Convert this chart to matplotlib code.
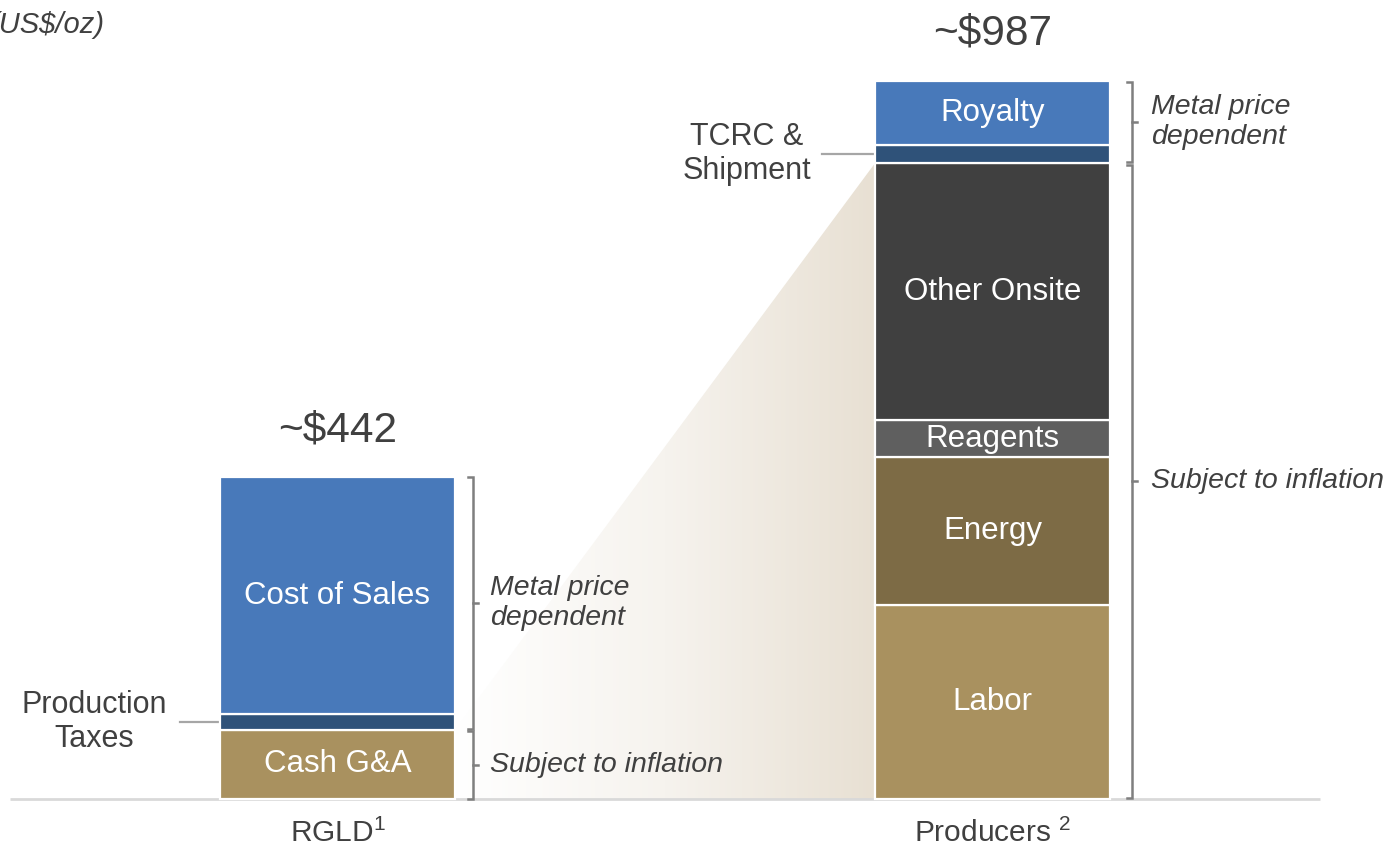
import numpy as np
import matplotlib
matplotlib.use("Agg")
import matplotlib.pyplot as plt
from matplotlib.patches import Polygon
from matplotlib.colors import LinearSegmentedColormap

plt.rcParams['font.family'] = ['Liberation Sans', 'DejaVu Sans']
plt.rcParams['mathtext.fontset'] = 'custom'
plt.rcParams['mathtext.rm'] = 'Liberation Sans'
plt.rcParams['mathtext.it'] = 'Liberation Sans:italic'

# ---------------- data ----------------
categories = ["RGLD", "Producers"]
cat_sup = ["1", "2"]
totals_text = ["~$442", "~$987"]

rgld_labels = ["Cash G&A", "Production Taxes", "Cost of Sales"]
rgld_values = [95, 22, 325]

prod_labels = ["Labor", "Energy", "Reagents", "Other Onsite", "TCRC & Shipment", "Royalty"]
prod_values = [266, 204, 51, 353, 25, 88]

# ---------------- styling ----------------
seg_colors = {
    "Cash G&A": "#A9915F", "Production Taxes": "#2F5279", "Cost of Sales": "#4879BA",
    "Labor": "#A9915F", "Energy": "#7D6B45", "Reagents": "#5F5F5F",
    "Other Onsite": "#404040", "TCRC & Shipment": "#2F5279", "Royalty": "#4879BA",
}
TXT = "#404040"
BR = "#7F7F7F"

W, H = 1395, 848
fig = plt.figure(figsize=(W / 100, H / 100), dpi=100)
ax = fig.add_axes([0, 0, 1, 1])
ax.axis("off")

S = 0.7275          # px per $
BASE = 799          # baseline pixel row
C0, UNIT = 337.5, 655.0

def px2x(p):
    return (p - C0) / UNIT

def py2y(p):
    return (BASE - p) / S

bar_w = 235 / UNIT
xs = [0, 1]

def stack(xc, labels, values):
    bottoms = np.concatenate([[0], np.cumsum(values)[:-1]])
    for lab, v, b in zip(labels, values, bottoms):
        ax.bar(xc, v, bottom=b, width=bar_w, color=seg_colors[lab],
               edgecolor="white", linewidth=1.6, zorder=3)
    return bottoms

rb = stack(xs[0], rgld_labels, rgld_values)
pb = stack(xs[1], prod_labels, prod_values)

# gradient wedge
g_left = xs[0] + bar_w / 2
g_right = xs[1] - bar_w / 2
y_left = rgld_values[0]
y_right = sum(prod_values[:4])
poly = Polygon([(g_left, 0), (g_left, y_left), (g_right, y_right), (g_right, 0)],
               closed=True, facecolor="none", edgecolor="none")
ax.add_patch(poly)
cmap = LinearSegmentedColormap.from_list("g", ["#FFFFFF", "#F6F3EE", "#E8E0D3"])
grad = np.linspace(0, 1, 256).reshape(1, -1)
im = ax.imshow(grad, cmap=cmap, extent=[g_left, g_right, 0, y_right],
               aspect="auto", zorder=1, interpolation="bilinear")
im.set_clip_path(poly)

# baseline
ax.plot([px2x(10), px2x(1320)], [0, 0], color="#D9D9D9", lw=2, zorder=2,
        solid_capstyle="butt")

# labels inside bars
inside_r = {"Cost of Sales", "Cash G&A"}
inside_p = {"Royalty", "Other Onsite", "Reagents", "Energy", "Labor"}
for lab, v, b in zip(rgld_labels, rgld_values, rb):
    if lab in inside_r:
        ax.text(xs[0], b + v / 2, lab, color="white", fontsize=22.5,
                ha="center", va="center", zorder=5)
for lab, v, b in zip(prod_labels, prod_values, pb):
    if lab in inside_p:
        ax.text(xs[1], b + v / 2, lab, color="white", fontsize=22.5,
                ha="center", va="center", zorder=5)

# totals
ax.text(xs[0], sum(rgld_values) + py2y(431) - py2y(478), totals_text[0],
        fontsize=30.5, color=TXT, ha="center", va="center")
ax.text(xs[1], sum(prod_values) + py2y(33) - py2y(80), totals_text[1],
        fontsize=30.5, color=TXT, ha="center", va="center")

# category labels
for xc, cat, sup in zip(xs, categories, cat_sup):
    sp = " " if cat == "Producers" else ""
    ax.text(xc, py2y(833), cat + sp + r"$^{" + sup + "}$", fontsize=21.5,
            color=TXT, ha="center", va="center")

# leader lines & outside labels
tax_mid = rb[1] + rgld_values[1] / 2
ax.plot([px2x(180), xs[0] - bar_w / 2], [tax_mid, tax_mid], color="#A6A6A6", lw=1.6)
ax.text(px2x(94), tax_mid, "Production\nTaxes", fontsize=22, color=TXT,
        ha="center", va="center", multialignment="center", linespacing=1.2)
tc_mid = pb[4] + prod_values[4] / 2
ax.plot([px2x(822), xs[1] - bar_w / 2], [tc_mid, tc_mid], color="#A6A6A6", lw=1.6)
ax.text(px2x(747), tc_mid, "TCRC &\nShipment", fontsize=22, color=TXT,
        ha="center", va="center", multialignment="center", linespacing=1.2)

# brackets
def bracket(xp, y0, y1, text, tx):
    x = px2x(xp)
    d = 5 / UNIT
    ax.plot([x - d, x, x, x - d], [y0, y0, y1, y1], color=BR, lw=1.8,
            solid_joinstyle="miter", zorder=4)
    ym = (y0 + y1) / 2
    ax.plot([x, x + d], [ym, ym], color=BR, lw=1.8, zorder=4)
    ax.text(px2x(tx), ym, text, fontsize=20.5, style="italic", color=TXT,
            ha="left", va="center", linespacing=1.2, zorder=5)

r_inf = rgld_values[0]
r_tot = sum(rgld_values)
bracket(473, 0, r_inf - 1.5, "Subject to inflation", 490)
bracket(473, r_inf + 1.5, r_tot, "Metal price\ndependent", 490)
p_inf = sum(prod_values[:4])
p_tot = sum(prod_values)
bracket(1132, 2, p_inf - 3, "Subject to inflation", 1151)
bracket(1132, p_inf + 1.5, p_tot - 2, "Metal price\ndependent", 1151)

# unit title (partly cropped at the left edge, as in the source slide)
ax.text(px2x(105), py2y(25), "(US$/oz)", fontsize=21, style="italic", color=TXT,
        ha="right", va="center")

ax.set_xlim(px2x(0), px2x(W))
ax.set_ylim(py2y(H), py2y(0))

fig.savefig("out.png", dpi=100)
